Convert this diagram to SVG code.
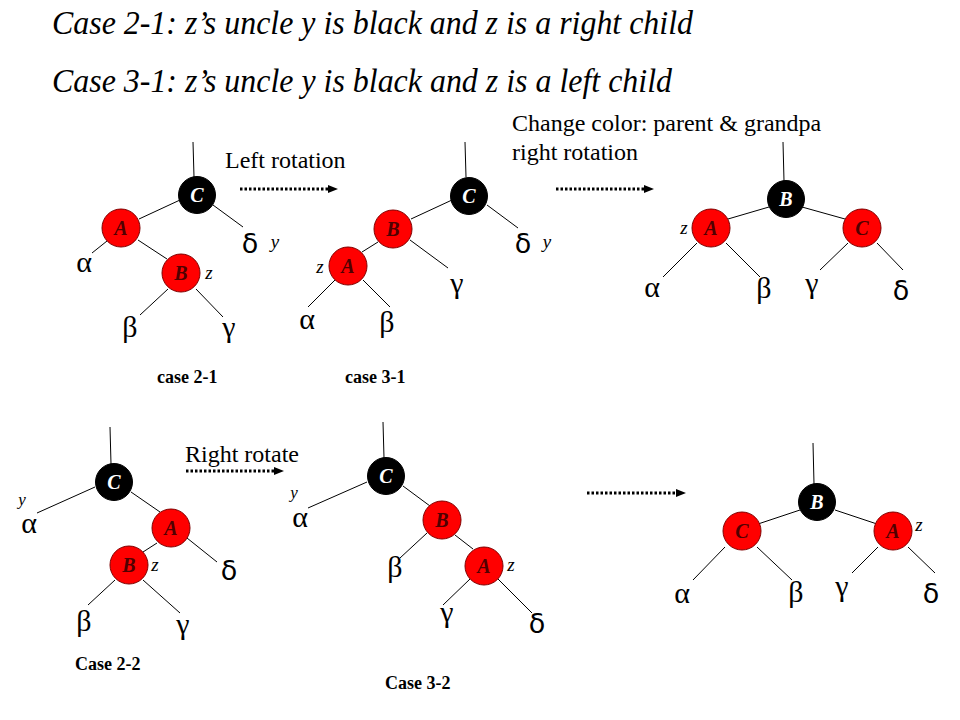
<svg xmlns="http://www.w3.org/2000/svg" width="960" height="720" viewBox="0 0 960 720">
<defs>
<style>
.title{font-family:"Liberation Serif",serif;font-style:italic;font-size:33px;fill:#000}
.lbl{font-family:"Liberation Serif",serif;font-size:24px;fill:#000}
.case{font-family:"Liberation Serif",serif;font-weight:bold;font-size:18px;fill:#000}
.red{fill:#ff0000;stroke:#800000;stroke-width:1}
.blk{fill:#000;stroke:#000;stroke-width:1}
.nt{font-family:"Liberation Serif",serif;font-weight:bold;font-style:italic;font-size:20px;text-anchor:middle}
.nt.r{fill:#500000}
.nt.w{fill:#fff}
.g{font-family:"Liberation Serif",serif;font-size:30px;fill:#000;text-anchor:middle}
.d{font-family:"DejaVu Sans",sans-serif;font-size:27px;fill:#000;text-anchor:middle}
.v{font-family:"Liberation Serif",serif;font-style:italic;font-size:19px;fill:#000;text-anchor:middle}
.vs{font-family:"Liberation Serif",serif;font-style:italic;font-size:17px;fill:#000;text-anchor:middle}
.e line{stroke:#000;stroke-width:1}
.e line.arr{stroke:#000;stroke-width:3;stroke-dasharray:2.5,2;fill:none}
</style>
<marker id="ah" markerWidth="10" markerHeight="10" refX="0" refY="5" orient="auto" markerUnits="userSpaceOnUse">
<path d="M0,1 L10,5 L0,9 Z" fill="#000"/>
</marker>
</defs>
<rect width="960" height="720" fill="#fff"/>

<text class="title" x="52" y="34" textLength="641" lengthAdjust="spacingAndGlyphs">Case 2-1: z’s uncle y is black and z is a right child</text>
<text class="title" x="52" y="92" textLength="620" lengthAdjust="spacingAndGlyphs">Case 3-1: z’s uncle y is black and z is a left child</text>

<text class="lbl" x="225" y="168">Left rotation</text>
<text class="lbl" x="512" y="131">Change color: parent &amp; grandpa</text>
<text class="lbl" x="512" y="160">right rotation</text>
<text class="lbl" x="185" y="462">Right rotate</text>

<text class="case" x="157" y="383">case 2-1</text>
<text class="case" x="345" y="383">case 3-1</text>
<text class="case" x="75" y="670">Case 2-2</text>
<text class="case" x="385" y="689">Case 3-2</text>

<g id="connectors" class="e">
<line class="arr" x1="240" y1="189" x2="328" y2="189" marker-end="url(#ah)"/>
<line class="arr" x1="556" y1="189" x2="644" y2="189" marker-end="url(#ah)"/>
<line class="arr" x1="186" y1="471" x2="274" y2="471" marker-end="url(#ah)"/>
<line class="arr" x1="587" y1="493" x2="676" y2="493" marker-end="url(#ah)"/>
<!-- tree 1 -->
<line x1="193" y1="142" x2="194" y2="177"/>
<line x1="180" y1="200" x2="139" y2="219"/>
<line x1="213" y1="205" x2="243" y2="227"/>
<line x1="107" y1="241" x2="92" y2="253"/>
<line x1="138" y1="240" x2="167" y2="259"/>
<line x1="168" y1="289" x2="140" y2="315"/>
<line x1="196" y1="289" x2="223" y2="317"/>
<!-- tree 2 -->
<line x1="465" y1="142" x2="466" y2="177"/>
<line x1="452" y1="200" x2="411" y2="219"/>
<line x1="487" y1="205" x2="518" y2="228"/>
<line x1="378" y1="242" x2="362" y2="252"/>
<line x1="410" y1="240" x2="448" y2="268"/>
<line x1="335" y1="280" x2="308" y2="307"/>
<line x1="363" y1="280" x2="390" y2="307"/>
<!-- tree 3 -->
<line x1="783" y1="142" x2="784" y2="181"/>
<line x1="769" y1="207" x2="728" y2="219"/>
<line x1="802" y1="207" x2="845" y2="219"/>
<line x1="697" y1="243" x2="663" y2="277"/>
<line x1="726" y1="243" x2="760" y2="277"/>
<line x1="848" y1="243" x2="820" y2="270"/>
<line x1="877" y1="243" x2="903" y2="270"/>
<!-- tree 4 -->
<line x1="110" y1="427" x2="111" y2="464"/>
<line x1="95" y1="487" x2="37" y2="513"/>
<line x1="131" y1="492" x2="160" y2="512"/>
<line x1="187" y1="538" x2="217" y2="562"/>
<line x1="157" y1="543" x2="143" y2="552"/>
<line x1="115" y1="580" x2="88" y2="605"/>
<line x1="143" y1="580" x2="180" y2="613"/>
<!-- tree 5 -->
<line x1="383" y1="422" x2="384" y2="458"/>
<line x1="367" y1="482" x2="308" y2="508"/>
<line x1="403" y1="486" x2="430" y2="506"/>
<line x1="427" y1="533" x2="400" y2="558"/>
<line x1="455" y1="535" x2="473" y2="549"/>
<line x1="470" y1="579" x2="443" y2="605"/>
<line x1="498" y1="579" x2="532" y2="613"/>
<!-- tree 6 -->
<line x1="813" y1="443" x2="814" y2="484"/>
<line x1="800" y1="510" x2="758" y2="524"/>
<line x1="835" y1="510" x2="877" y2="524"/>
<line x1="725" y1="547" x2="693" y2="580"/>
<line x1="757" y1="547" x2="792" y2="580"/>
<line x1="878" y1="547" x2="852" y2="573"/>
<line x1="908" y1="547" x2="935" y2="573"/>
</g>

<!-- tree 1 -->
<g id="t1-C"><circle class="blk" cx="197" cy="195" r="18.5"/><text class="nt w" x="197" y="202">C</text></g>
<g id="t1-A"><circle class="red" cx="121" cy="228" r="19"/><text class="nt r" x="121" y="235">A</text></g>
<g id="t1-B"><circle class="red" cx="181" cy="273" r="19"/><text class="nt r" x="181" y="280">B</text><text class="v" x="209" y="279">z</text></g>
<g id="t1-leaves">
<text class="g" x="84" y="272">α</text>
<text class="g" x="130" y="337">β</text>
<text class="g" x="229" y="337">γ</text>
<text class="d" x="250" y="253">δ</text>
<text class="v" x="275" y="248">y</text>
</g>

<!-- tree 2 -->
<g id="t2-C"><circle class="blk" cx="469" cy="196" r="18.5"/><text class="nt w" x="469" y="203">C</text></g>
<g id="t2-B"><circle class="red" cx="393" cy="229" r="19"/><text class="nt r" x="393" y="236">B</text></g>
<g id="t2-A"><circle class="red" cx="348" cy="266" r="19"/><text class="nt r" x="348" y="273">A</text><text class="v" x="320" y="273">z</text></g>
<g id="t2-leaves">
<text class="g" x="307" y="329">α</text>
<text class="g" x="387" y="332">β</text>
<text class="g" x="457" y="293">γ</text>
<text class="d" x="523" y="253">δ</text>
<text class="v" x="547" y="248">y</text>
</g>

<!-- tree 3 -->
<g id="t3-B"><circle class="blk" cx="786" cy="199" r="18.5"/><text class="nt w" x="786" y="206">B</text></g>
<g id="t3-A"><circle class="red" cx="711" cy="228" r="19"/><text class="nt r" x="711" y="235">A</text><text class="v" x="684" y="234">z</text></g>
<g id="t3-C"><circle class="red" cx="862" cy="228" r="19"/><text class="nt r" x="862" y="235">C</text></g>
<g id="t3-leaves">
<text class="g" x="652" y="297">α</text>
<text class="g" x="764" y="298">β</text>
<text class="g" x="812" y="293">γ</text>
<text class="d" x="901" y="300">δ</text>
</g>

<!-- tree 4 -->
<g id="t4-C"><circle class="blk" cx="114" cy="482" r="18.5"/><text class="nt w" x="114" y="489">C</text></g>
<g id="t4-A"><circle class="red" cx="171" cy="528" r="19"/><text class="nt r" x="171" y="535">A</text></g>
<g id="t4-B"><circle class="red" cx="129" cy="565" r="19"/><text class="nt r" x="129" y="572">B</text><text class="v" x="155" y="571">z</text></g>
<g id="t4-leaves">
<text class="vs" x="22" y="505">y</text>
<text class="g" x="29" y="533">α</text>
<text class="g" x="84" y="631">β</text>
<text class="g" x="183" y="634">γ</text>
<text class="d" x="229" y="580">δ</text>
</g>

<!-- tree 5 -->
<g id="t5-C"><circle class="blk" cx="386" cy="476" r="18.5"/><text class="nt w" x="386" y="483">C</text></g>
<g id="t5-B"><circle class="red" cx="442" cy="520" r="19"/><text class="nt r" x="442" y="527">B</text></g>
<g id="t5-A"><circle class="red" cx="484" cy="566" r="19"/><text class="nt r" x="484" y="573">A</text><text class="v" x="511" y="571">z</text></g>
<g id="t5-leaves">
<text class="vs" x="294" y="498">y</text>
<text class="g" x="300" y="527">α</text>
<text class="g" x="395" y="577">β</text>
<text class="g" x="447" y="622">γ</text>
<text class="d" x="537" y="633">δ</text>
</g>

<!-- tree 6 -->
<g id="t6-B"><circle class="blk" cx="817" cy="502" r="18.5"/><text class="nt w" x="817" y="509">B</text></g>
<g id="t6-C"><circle class="red" cx="742" cy="531" r="19"/><text class="nt r" x="742" y="538">C</text></g>
<g id="t6-A"><circle class="red" cx="893" cy="531" r="19"/><text class="nt r" x="893" y="538">A</text><text class="v" x="919" y="531">z</text></g>
<g id="t6-leaves">
<text class="g" x="682" y="603">α</text>
<text class="g" x="796" y="602">β</text>
<text class="g" x="842" y="596">γ</text>
<text class="d" x="931" y="603">δ</text>
</g>
</svg>
